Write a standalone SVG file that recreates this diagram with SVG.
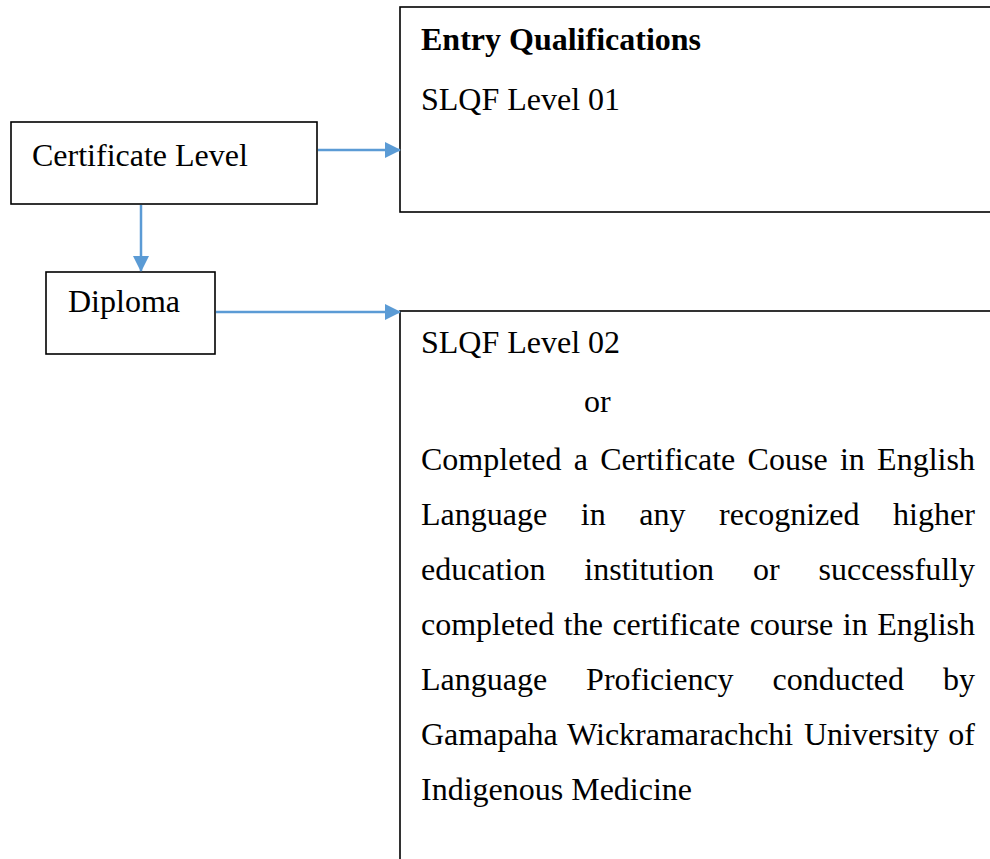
<svg xmlns="http://www.w3.org/2000/svg" width="990" height="859" viewBox="0 0 990 859">
<style>
.box{fill:#fff;stroke:#000;stroke-width:1.6}
.t{font-family:"Liberation Serif","Times New Roman",serif;font-size:32px;fill:#000}
.b{font-weight:bold}
.conn{stroke:#5B9BD5;stroke-width:2.5;fill:none}
</style>
<defs>
<marker id="ah" markerUnits="userSpaceOnUse" markerWidth="16" markerHeight="16" refX="15" refY="8" orient="auto">
<path d="M0,0 L16,8 L0,16 Z" fill="#5B9BD5"/>
</marker>
</defs>
<rect width="990" height="859" fill="#fff"/>
<g id="node-certificate">
<rect class="box" x="11" y="122" width="306" height="82"/>
<text class="t" x="32" y="166">Certificate Level</text>
</g>
<g id="node-diploma">
<rect class="box" x="46" y="272" width="169" height="82"/>
<text class="t" x="68" y="312">Diploma</text>
</g>
<g id="node-entry">
<rect class="box" x="400" y="7" width="620" height="205"/>
<text class="t b" x="421" y="50">Entry Qualifications</text>
<text class="t" x="421" y="110">SLQF Level 01</text>
</g>
<g id="node-level2">
<rect class="box" x="400" y="311" width="620" height="600"/>
<text class="t" x="421" y="353">SLQF Level 02</text>
<text class="t" x="584" y="412">or</text>
<text class="t" y="470"><tspan x="421">Completed</tspan><tspan x="573.7">a</tspan><tspan x="600.2">Certificate</tspan><tspan x="747.6">Couse</tspan><tspan x="839.9">in</tspan><tspan x="877.1">English</tspan></text>
<text class="t" y="525"><tspan x="421">Language</tspan><tspan x="580.8">in</tspan><tspan x="639.3">any</tspan><tspan x="719.1">recognized</tspan><tspan x="893.1">higher</tspan></text>
<text class="t" y="580"><tspan x="421">education</tspan><tspan x="584.3">institution</tspan><tspan x="753">or</tspan><tspan x="818.6">successfully</tspan></text>
<text class="t" y="635"><tspan x="421">completed</tspan><tspan x="563.8">the</tspan><tspan x="612.4">certificate</tspan><tspan x="749.8">course</tspan><tspan x="842.8">in</tspan><tspan x="877.2">English</tspan></text>
<text class="t" y="690"><tspan x="421">Language</tspan><tspan x="586.1">Proficiency</tspan><tspan x="772.5">conducted</tspan><tspan x="942.9">by</tspan></text>
<text class="t" y="745"><tspan x="421">Gamapaha</tspan><tspan x="567.1">Wickramarachchi</tspan><tspan x="803.9">University</tspan><tspan x="948.3">of</tspan></text>
<text class="t" x="421" y="800">Indigenous Medicine</text>
</g>
<g id="connectors">
<line class="conn" x1="318" y1="150" x2="400" y2="150" marker-end="url(#ah)"/>
<line class="conn" x1="141" y1="205" x2="141" y2="271" marker-end="url(#ah)"/>
<line class="conn" x1="216" y1="312" x2="400" y2="312" marker-end="url(#ah)"/>
</g>
</svg>
